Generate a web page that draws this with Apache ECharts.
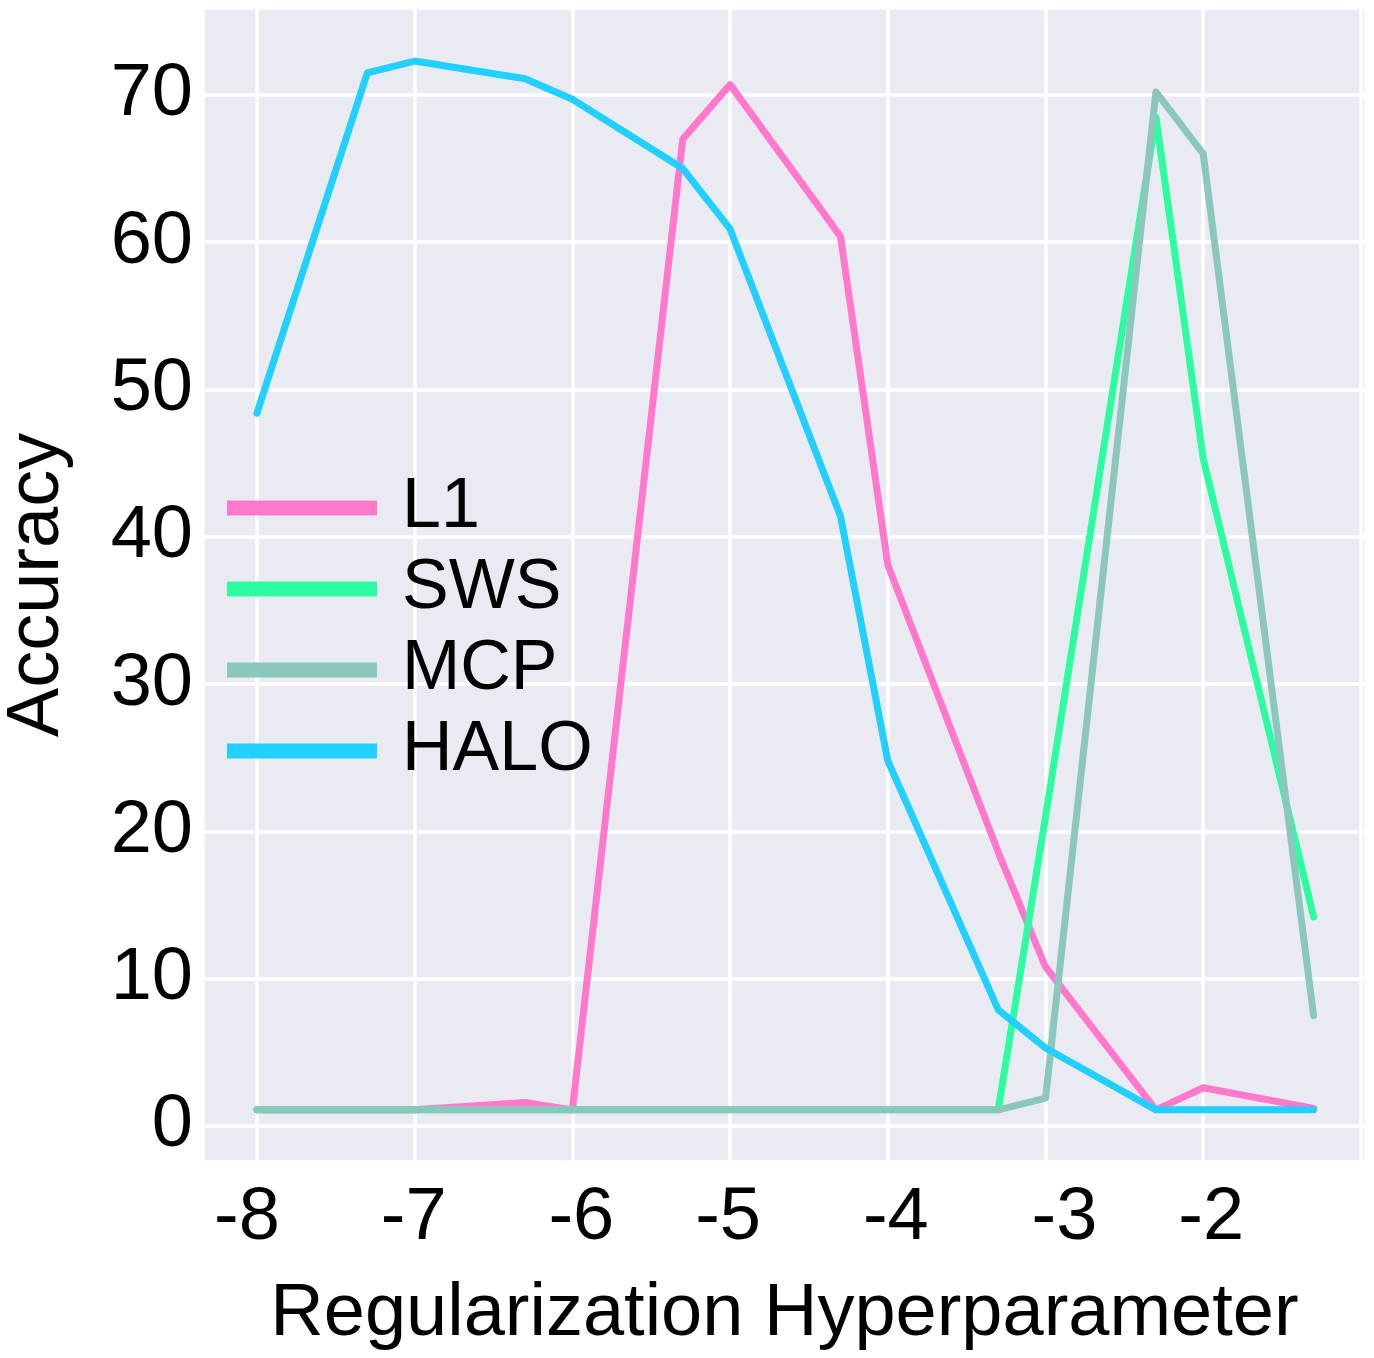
<!DOCTYPE html>
<html>
<head>
<meta charset="utf-8">
<script src="https://cdn.jsdelivr.net/npm/echarts@6/dist/echarts.min.js"></script>
<style>
  html, body { margin: 0; padding: 0; background: #fff; }
  #chart { width: 1374px; height: 1358px; }
</style>
</head>
<body>
<div id="chart"></div>
<script>
// log10 of the regularization strength
var xVals = [-8, -7.3, -7, -6.3, -6, -5.3, -5, -4.3, -4, -3.3, -3, -2.3, -2, -1.3];

var l1   = [1.1, 1.1, 1.1, 1.6, 1.1, 67.0, 70.7, 60.4, 38.1, 18.6, 10.8, 1.1, 2.6, 1.2];
var sws  = [1.1, 1.1, 1.1, 1.1, 1.1, 1.1, 1.1, 1.1, 1.1, 1.1, 21.0, 68.5, 45.3, 14.2];
var mcp  = [1.1, 1.1, 1.1, 1.1, 1.1, 1.1, 1.1, 1.1, 1.1, 1.1, 1.9, 70.2, 66.0, 7.5];
var halo = [48.4, 71.5, 72.3, 71.1, 69.7, 65.0, 60.9, 41.4, 24.8, 7.9, 5.3, 1.1, 1.1, 1.1];

var seriesNames = ['L1', 'SWS', 'MCP', 'HALO'];
var xTickLabels = [-8, -7, -6, -5, -4, -3, -2];

var colors = ['#ff78cc', '#2cfda0', '#8bc7bc', '#22d0ff'];
var font = '"Liberation Sans", Arial, Helvetica, sans-serif';

// labels in the original sit a bit off their grid lines
var labelShift = { '-8': -10, '-7': -1, '-6': 9, '-5': -2, '-4': 8, '-3': 19, '-2': 8 };
var xRich = {};
xTickLabels.forEach(function (v) {
    var d = labelShift[String(v)] || 0;
    xRich['t' + Math.abs(v)] = {
        fontSize: 74, fontFamily: font, color: '#000',
        padding: d > 0 ? [0, 0, 0, 2 * d] : [0, -2 * d, 0, 0]
    };
});

function pairs(ys) {
    return xVals.map(function (x, i) { return [x, ys[i]]; });
}

var myChart = echarts.init(document.getElementById('chart'));

var series = [l1, sws, mcp, halo].map(function (ys, i) {
    return {
        name: seriesNames[i],
        type: 'line',
        data: pairs(ys),
        showSymbol: false,
        symbol: 'none',
        z: 2 + i,
        lineStyle: { width: 7, color: colors[i], cap: 'round', join: 'round' },
        itemStyle: { color: colors[i] },
        animation: false
    };
});

var option = {
    backgroundColor: '#ffffff',
    animation: false,
    grid: {
        left: 203, right: 8, top: 8, bottom: 196,
        containLabel: false,
        outerBoundsMode: 'none',
        show: true, backgroundColor: '#eaeaf2', borderWidth: 0
    },
    legend: {
        orient: 'vertical',
        left: 222, top: 468,
        icon: 'rect',
        itemWidth: 150, itemHeight: 15,
        itemGap: 11,
        data: seriesNames,
        textStyle: {
            fontSize: 70, fontFamily: font, color: '#000',
            lineHeight: 70, padding: [0, 0, 0, 20]
        }
    },
    xAxis: {
        type: 'value',
        min: -8.342, max: -0.968,
        splitNumber: 7,
        name: 'Regularization Hyperparameter',
        nameLocation: 'middle',
        nameGap: 116,
        nameTextStyle: { fontSize: 74, fontFamily: font, color: '#000' },
        axisLine: { show: false },
        axisTick: { show: false },
        splitLine: { show: true, lineStyle: { color: '#ffffff', width: 3.5 } },
        axisLabel: {
            margin: 20,
            showMinLabel: false, showMaxLabel: false,
            formatter: function (v) {
                if (Math.abs(v - Math.round(v)) > 1e-6 || xTickLabels.indexOf(Math.round(v)) < 0) return '';
                var r = Math.round(v);
                return '{t' + Math.abs(r) + '|' + r + '}';
            },
            rich: xRich
        }
    },
    yAxis: {
        type: 'value',
        min: -2.44, max: 75.9,
        splitNumber: 8,
        name: 'Accuracy',
        nameLocation: 'middle',
        nameGap: 128,
        nameRotate: 90,
        nameTextStyle: { fontSize: 74, fontFamily: font, color: '#000' },
        axisLine: { show: false },
        axisTick: { show: false },
        splitLine: { show: true, lineStyle: { color: '#ffffff', width: 3.5 } },
        axisLabel: {
            margin: 10,
            fontSize: 74, fontFamily: font, color: '#000',
            showMinLabel: false, showMaxLabel: false,
            formatter: function (v) {
                if (Math.abs(v - Math.round(v)) > 1e-6 || Math.round(v) % 10 !== 0) return '';
                return String(Math.round(v));
            }
        }
    },
    series: series
};

myChart.setOption(option);
</script>
</body>
</html>
